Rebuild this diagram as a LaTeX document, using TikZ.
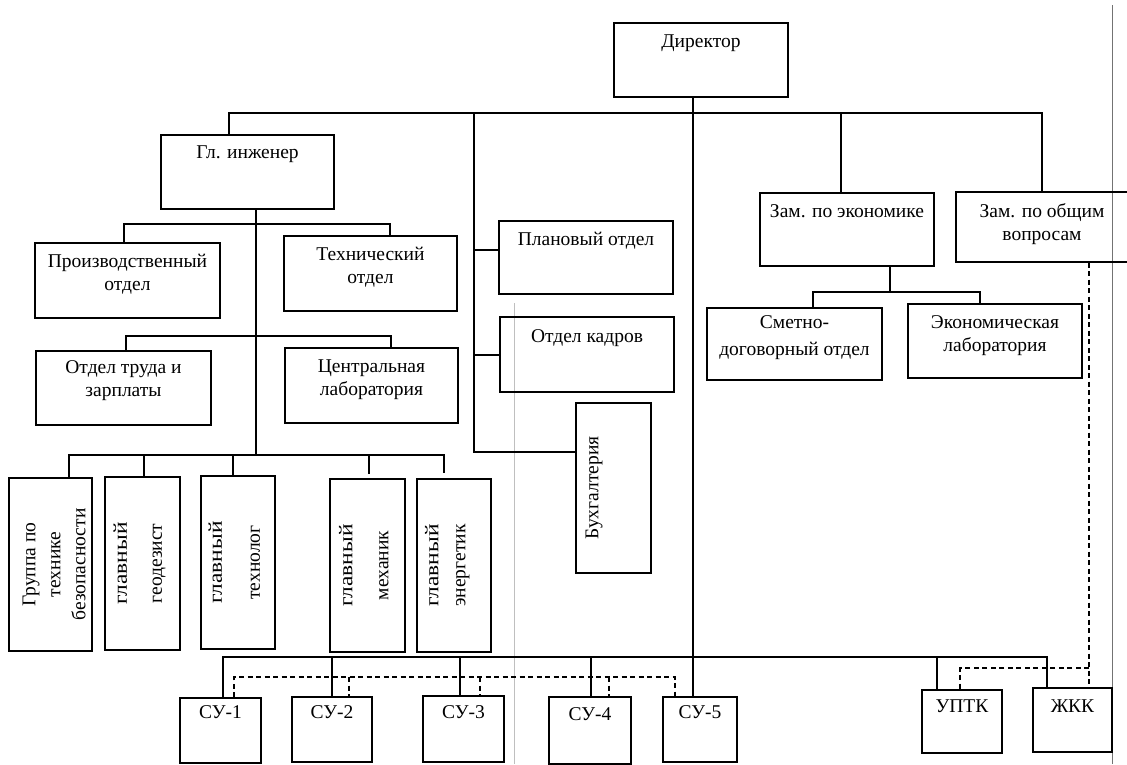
\documentclass[tikz,border=0pt]{standalone}
\usepackage{fontspec}
\setmainfont{Liberation Serif}
\usepackage{graphicx}
\tikzset{
  box/.style={draw, line width=1.4pt, inner sep=0pt, font=\fontsize{19.5}{23.5}\selectfont},
  vtext/.style={rotate=90, inner sep=0pt, font=\fontsize{19.5}{24}\selectfont},
  conn/.style={line width=1.2pt},
  dashconn/.style={line width=1.2pt, dash pattern=on 5pt off 3.5pt},
  scanline/.style={line width=0.8pt}
}
% name, x1, y1, x2, y2, baseline offset, text
\newcommand\tbox[7]{%
  \node[box] (#1) at ({(#2+#4)/2},{(#3+#5)/2})
   {\parbox[c][\dimexpr#5pt-#3pt\relax][t]{\dimexpr#4pt-#2pt\relax}{\centering\rule{0pt}{#6pt}#7\par}};}
% name, x1, y1, x2, y2, x-offset of text, rotated tabular content
\newcommand\vbx[7]{%
  \node[box, minimum width={(#4-#2)*1pt}, minimum height={(#5-#3)*1pt}] (#1) at ({(#2+#4)/2},{(#3+#5)/2}) {};
  \node[vtext] (#1-t) at ([xshift=#6pt]#1.center) {\begin{tabular}{@{}c@{}}#7\end{tabular}};}
\newcommand\glw{\scalebox{1.2}[1]{главный}}
\begin{document}
\begin{tikzpicture}[x=1pt, y=-1pt]
\fill[white] (0,0) rectangle (1127,764);
\useasboundingbox (0,0) rectangle (1127,764);

% scan lines of the page
\draw[scanline, black!55] (1112,5) -- (1112,764);
\draw[scanline, black!25] (514,303) -- (514,764);

% boxes with text at the top
\tbox{dir}{614}{23}{788}{97}{24}{Директор}
\tbox{gi}{161}{135}{334}{209}{23}{Гл. инженер}
\tbox{prod}{35}{243}{220}{318}{24}{Производственный\\отдел}
\tbox{tech}{284}{236}{457}{311}{24}{Технический\\отдел}
\tbox{trud}{36}{351}{211}{425}{22}{Отдел труда и\\зарплаты}
\tbox{cent}{285}{348}{458}{423}{24}{Центральная\\лаборатория}
\tbox{plan}{499}{221}{673}{294}{24}{Плановый отдел}
\tbox{kadr}{500}{317}{674}{392}{25}{Отдел кадров}
\tbox{zamek}{760}{193}{934}{266}{24}{Зам. по экономике}
\tbox{zamob}{956}{192}{1128}{262}{25}{Зам. по общим\\вопросам}
\tbox{smeta}{707}{308}{882}{380}{20}{Сметно-\\[4pt]договорный отдел}
\tbox{ekon}{908}{304}{1082}{378}{24}{Экономическая\\лаборатория}
\tbox{su1}{180}{698}{261}{763}{20}{СУ-1}
\tbox{su2}{292}{697}{372}{762}{21}{СУ-2}
\tbox{su3}{423}{696}{504}{762}{22}{СУ-3}
\tbox{su4}{549}{697}{631}{764}{23}{СУ-4}
\tbox{su5}{663}{697}{737}{762}{21}{СУ-5}
\tbox{uptk}{922}{690}{1002}{753}{22}{УПТК}
\tbox{zhkk}{1033}{688}{1112}{752}{24}{ЖКК}

% boxes with vertical text
\vbx{grp}{9}{478}{92}{651}{5}{Группа по\\[1pt]технике\\[1pt]безопасности}
\vbx{geo}{105}{477}{180}{650}{-3}{\glw\\[11pt]геодезист}
\vbx{tekh}{201}{476}{275}{649}{-2}{\glw\\[14pt]технолог}
\vbx{mech}{330}{479}{405}{652}{-2}{\glw\\[12pt]механик}
\vbx{energ}{417}{479}{491}{652}{-7}{\glw\\[3pt]энергетик}
\vbx{buh}{576}{403}{651}{573}{-20}{Бухгалтерия}

% top bus
\coordinate (tb1) at (229,113);
\coordinate (tb2) at (474,113);
\coordinate (tb3) at (693,113);
\coordinate (tb4) at (841,113);
\coordinate (tb5) at (1042,113);
\draw[conn] (tb1 |- gi.north) -- (tb1) -- (tb5) -- (tb5 |- zamob.north);
\draw[conn] (tb4) -- (tb4 |- zamek.north);

% director line down to SU-5
\draw[conn] (dir.south -| tb3) -- (tb3 |- su5.north);

% staff departments
\coordinate (pb) at (474,250);
\coordinate (kb) at (474,355);
\coordinate (bb) at (474,452);
\draw[conn] (tb2) -- (bb) -- (bb -| buh.west);
\draw[conn] (pb) -- (pb -| plan.west);
\draw[conn] (kb) -- (kb -| kadr.west);

% chief engineer branch
\coordinate (g0) at (256,455);
\draw[conn] (gi.south -| g0) -- (g0);
\coordinate (s1l) at (124,224);
\coordinate (s1r) at (390,224);
\draw[conn] (s1l |- prod.north) -- (s1l) -- (s1r) -- (s1r |- tech.north);
\coordinate (s2l) at (126,336);
\coordinate (s2r) at (391,336);
\draw[conn] (s2l |- trud.north) -- (s2l) -- (s2r) -- (s2r |- cent.north);
\coordinate (s3a) at (69,455);
\coordinate (s3b) at (144,455);
\coordinate (s3c) at (233,455);
\coordinate (s3d) at (369,455);
\coordinate (s3e) at (444,455);
\draw[conn] (s3a |- grp.north) -- (s3a) -- (s3e) -- ([yshift=5pt]s3e |- energ.north);
\draw[conn] (s3b) -- (s3b |- geo.north);
\draw[conn] (s3c) -- (s3c |- tekh.north);
\draw[conn] (s3d) -- ([yshift=4pt]s3d |- mech.north);

% economics deputy branch
\coordinate (ez) at (890,292);
\coordinate (el) at (813,292);
\coordinate (er) at (980,292);
\draw[conn] (zamek.south -| ez) -- (ez);
\draw[conn] (el |- smeta.north) -- (el) -- (er) -- (er |- ekon.north);

% lower bus
\coordinate (lb1) at (223,657);
\coordinate (lb2) at (332,657);
\coordinate (lb3) at (460,657);
\coordinate (lb4) at (591,657);
\coordinate (lb6) at (937,657);
\coordinate (lb7) at (1047,657);
\draw[conn] (lb1 |- su1.north) -- (lb1) -- (lb7) -- (lb7 |- zhkk.north);
\draw[conn] (lb2) -- (lb2 |- su2.north);
\draw[conn] (lb3) -- (lb3 |- su3.north);
\draw[conn] (lb4) -- (lb4 |- su4.north);
\draw[conn] (lb6) -- (lb6 |- uptk.north);

% dashed links between SU
\coordinate (d1) at (234,677);
\coordinate (d2) at (349,677);
\coordinate (d3) at (480,677);
\coordinate (d4) at (609,677);
\coordinate (d5) at (675,677);
\draw[dashconn] (d1 |- su1.north) -- (d1) -- (d5) -- (d5 |- su5.north);
\draw[dashconn] (d2) -- (d2 |- su2.north);
\draw[dashconn] (d3) -- (d3 |- su3.north);
\draw[dashconn] (d4) -- (d4 |- su4.north);

% dashed links from general deputy
\coordinate (rd) at (1089,668);
\coordinate (rd2) at (960,668);
\draw[dashconn] (zamob.south -| rd) -- (rd |- zhkk.north);
\draw[dashconn] (rd) -- (rd2) -- (rd2 |- uptk.north);
\end{tikzpicture}
\end{document}
